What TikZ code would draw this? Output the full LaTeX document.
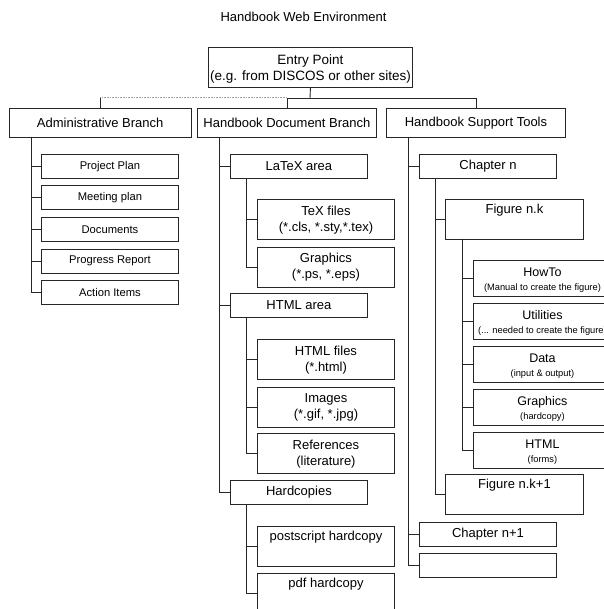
\documentclass[tikz,border=0pt]{standalone}
\usepackage{fontspec}
\setmainfont{Liberation Sans}
\begin{document}
\begin{tikzpicture}[x=1pt,y=-1pt,
  bx/.style={draw=black!85, line width=0.9pt, inner sep=0pt, anchor=north west, align=center},
  conn/.style={draw=black!85, line width=0.9pt},
  big/.style={font=\fontsize{13}{16}\selectfont},
  entryf/.style={font=\fontsize{13.5}{16}\selectfont},
  small/.style={font=\fontsize{11.2}{14}\selectfont},
  twol/.style={font=\fontsize{9.3}{14}\selectfont},
  w/.style={minimum width=137pt}]
\useasboundingbox (0,0) rectangle (603,609);
\node[big] (title) at (303.5,17) {Handbook Web Environment};
\node[bx,entryf,minimum width=204pt,minimum height=40pt] (entry) at (208,47) {\rule{0pt}{13.5pt}Entry Point\\(e.g. from DISCOS or other sites)};
\node[bx,big,minimum width=182.5pt,minimum height=29pt] (admin) at (8.5,108) {Administrative Branch};
\node[bx,big,minimum width=179pt,minimum height=29pt] (doc) at (197,108) {Handbook Document Branch};
\node[bx,big,minimum width=179pt,minimum height=29pt] (sup) at (386,108) {Handbook Support Tools};
% admin children
\node[bx,small,w,minimum height=24pt] (pp) at (41,154) {Project Plan};
\node[bx,small,w,minimum height=24pt] (mp) at (41,185.5) {Meeting plan};
\node[bx,small,w,minimum height=24pt] (dc) at (41,217) {Documents};
\node[bx,small,w,minimum height=24pt] (pr) at (41,248.5) {Progress Report};
\node[bx,small,w,minimum height=24pt] (ai) at (41,280) {Action Items};
% doc children
\node[bx,big,w,minimum height=24pt] (latex) at (230,154) {LaTeX area};
\node[bx,big,w,minimum height=40pt] (texf) at (257,199.3) {TeX files\\(*.cls, *.sty,*.tex)};
\node[bx,big,w,minimum height=40pt] (gfx) at (257,246.7) {Graphics\\(*.ps, *.eps)};
\node[bx,big,w,minimum height=24pt] (html) at (230,293) {HTML area};
\node[bx,big,w,minimum height=40pt] (htmlf) at (257,339.3) {HTML files\\(*.html)};
\node[bx,big,w,minimum height=40pt] (img) at (257,386.7) {Images\\(*.gif, *.jpg)};
\node[bx,big,w,minimum height=40pt] (refs) at (257,433.3) {References\\(literature)};
\node[bx,big,w,minimum height=24pt] (hard) at (230,480) {Hardcopies};
\node[bx,big,w,minimum height=40pt] (ps) at (257,526) {postscript hardcopy\\\strut};
\node[bx,big,w,minimum height=40pt] (pdf) at (257,573) {pdf hardcopy\\\strut};
% support children
\node[bx,big,w,minimum height=24pt] (chn) at (419,154) {Chapter n};
\node[bx,big,minimum width=138pt,minimum height=40pt] (fig) at (445,199) {Figure n.k\\\strut};
\node[bx,twol,minimum width=138pt,minimum height=36pt] (howto) at (473,260) {\rule{0pt}{12pt}{\fontsize{12.5}{14}\selectfont HowTo}\\(Manual to create the figure)};
\node[bx,twol,minimum width=138pt,minimum height=36pt] (util) at (473,303) {\rule{0pt}{12pt}{\fontsize{12.5}{14}\selectfont Utilities}\\(... needed to create the figure)};
\node[bx,twol,minimum width=138pt,minimum height=36pt] (data) at (473,346) {\rule{0pt}{12pt}{\fontsize{12.5}{14}\selectfont Data}\\(input \& output)};
\node[bx,twol,minimum width=138pt,minimum height=36pt] (gfx2) at (473,389) {\rule{0pt}{12pt}{\fontsize{12.5}{14}\selectfont Graphics}\\(hardcopy)};
\node[bx,twol,minimum width=138pt,minimum height=36pt] (htm2) at (473,432) {\rule{0pt}{12pt}{\fontsize{12.5}{14}\selectfont HTML}\\(forms)};
\node[bx,big,minimum width=138pt,minimum height=40pt] (fig1) at (445,474) {Figure n.k+1\\\strut};
\node[bx,big,w,minimum height=24pt] (chn1) at (419,522) {Chapter n+1};
\node[bx,big,w,minimum height=24pt] (empty) at (419,553) {};
% top connectors
\coordinate (jn) at (310,98);
\draw[conn] (entry.south) -- (jn);
\draw[conn] (doc.north) -- (doc.north |- jn) -- (sup.north |- jn) -- (sup.north);
\draw[draw=gray!75, line width=1pt, dash pattern=on 1pt off 0.6pt] (doc.north |- jn) -- (admin.north |- jn);
\draw[conn] (admin.north |- jn) -- (admin.north);
% tree connectors
\coordinate (av) at (31,137);
\coordinate (dv) at (219,137);
\coordinate (lv) at (246,178);
\coordinate (hv) at (246,317);
\coordinate (hdv) at (246,504);
\coordinate (sv) at (408,137);
\coordinate (cv) at (435,178);
\coordinate (fv) at (462,239);
\foreach \n in {pp,mp,dc,pr,ai} \draw[conn] (av) |- (\n.west);
\foreach \n in {latex,html,hard} \draw[conn] (dv) |- (\n.west);
\foreach \n in {texf,gfx} \draw[conn] (lv) |- (\n.west);
\foreach \n in {htmlf,img,refs} \draw[conn] (hv) |- (\n.west);
\foreach \n in {ps,pdf} \draw[conn] (hdv) |- (\n.west);
\foreach \n in {chn,chn1,empty} \draw[conn] (sv) |- (\n.west);
\foreach \n in {fig,fig1} \draw[conn] (cv) |- (\n.west);
\foreach \n in {howto,util,data,gfx2,htm2} \draw[conn] (fv) |- (\n.west);
\end{tikzpicture}
\end{document}
